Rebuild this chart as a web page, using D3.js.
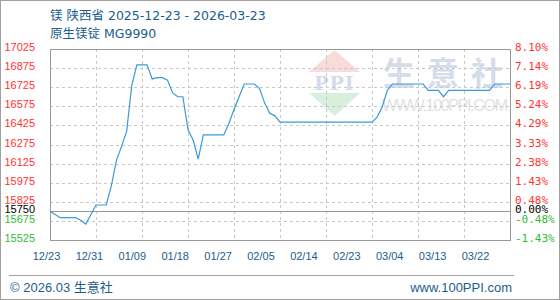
<!DOCTYPE html>
<html>
<head>
<meta charset="utf-8">
<script src="https://cdn.jsdelivr.net/npm/d3@7"></script>
<style>
	body { margin: 0; background: #fff; }
	svg { display: block; font-family: "Liberation Sans", Arial, "Noto Sans CJK SC", sans-serif; }
</style>
</head>
<body>
<div id="chart"></div>
<script>
/////////////////////////////////////////////////////////////////////////////
//// Data ///////////////////////////////////////////////////////////////////
/////////////////////////////////////////////////////////////////////////////

const basePrice = 15750;

// Price breakpoints (yuan/ton)
const dates = [
	"2025-12-23", "2025-12-25", "2025-12-28", "2025-12-29", "2025-12-30",
	"2026-01-01", "2026-01-03", "2026-01-04", "2026-01-05", "2026-01-06",
	"2026-01-07", "2026-01-08", "2026-01-09", "2026-01-11", "2026-01-12",
	"2026-01-13", "2026-01-14", "2026-01-15", "2026-01-16", "2026-01-17",
	"2026-01-18", "2026-01-19", "2026-01-20", "2026-01-21", "2026-01-22",
	"2026-01-26", "2026-01-27", "2026-01-28", "2026-01-29", "2026-01-30",
	"2026-02-01", "2026-02-02", "2026-02-03", "2026-02-04", "2026-02-05",
	"2026-02-06", "2026-02-24", "2026-02-25", "2026-02-26", "2026-02-27",
	"2026-02-28", "2026-03-06", "2026-03-07", "2026-03-09", "2026-03-10",
	"2026-03-11", "2026-03-19", "2026-03-20", "2026-03-23"
];
const prices = [
	15750, 15700, 15700, 15680, 15650,
	15800, 15800, 15950, 16150, 16260,
	16380, 16740, 16900, 16900, 16790,
	16800, 16800, 16780, 16680, 16650,
	16650, 16390, 16310, 16160, 16350,
	16350, 16440, 16550, 16650, 16750,
	16750, 16715, 16600, 16520, 16500,
	16450, 16450, 16490, 16570, 16700,
	16750, 16750, 16700, 16700, 16650,
	16700, 16700, 16750, 16750
];

// Axis ticks
const leftTicks = [17025, 16875, 16725, 16575, 16425, 16275, 16125, 15975, 15825, 15750, 15675, 15525];
const xLabels = ["12/23", "12/31", "01/09", "01/18", "01/27", "02/05", "02/14", "02/23", "03/04", "03/13", "03/22"];

/////////////////////////////////////////////////////////////////////////////
//// Set Up /////////////////////////////////////////////////////////////////
/////////////////////////////////////////////////////////////////////////////

const width = 560,
			height = 300;

const plot = { left: 50, right: 510, top: 49, bottom: 240 };

const blue = "#1d5d8e",
			up = "#ff3333",
			down = "#33bb33";

const svg = d3.select("#chart").append("svg")
		.attr("width", width)
		.attr("height", height);

// Outer frame
svg.append("rect")
		.attr("x", 0.5)
		.attr("y", 0.5)
		.attr("width", width - 1)
		.attr("height", height - 1)
		.attr("fill", "none")
		.attr("stroke", "#a0a0a0");

const parseDate = d3.timeParse("%Y-%m-%d");

const x = d3.scaleTime()
		.domain([parseDate("2025-12-23"), parseDate("2026-03-23")])
		.range([plot.left, plot.right]);

const y = d3.scaleLinear()
		.domain([15525, 17025])
		.range([plot.bottom, plot.top]);

const xGrid = d3.scaleLinear()
		.domain([0, 10])
		.range([plot.left, plot.right]);

const xLabel = d3.scalePoint()
		.domain(xLabels)
		.range([46, 475]);

const tickColor = v => v > basePrice ? up : (v < basePrice ? down : "#000");

/////////////////////////////////////////////////////////////////////////////
//// Watermark //////////////////////////////////////////////////////////////
/////////////////////////////////////////////////////////////////////////////

const mark = svg.append("g").attr("id", "watermark");
mark.append("path")
		.attr("d", "M309,72 L334.5,50 L360,72 Z")
		.attr("fill", "#f8dcdc");
mark.append("path")
		.attr("d", "M309,93 L360,93 L334.5,116 Z")
		.attr("fill", "#d9efdd");
mark.append("text")
		.attr("x", 334.5)
		.attr("y", 90)
		.attr("text-anchor", "middle")
		.attr("font-family", "'DejaVu Serif', serif")
		.attr("font-weight", "bold")
		.attr("font-size", 19)
		.attr("letter-spacing", 1)
		.attr("fill", "#d3dae9")
		.text("PPI");
mark.append("text")
		.attr("x", 383)
		.attr("y", 85)
		.attr("font-family", "'Noto Sans CJK SC', sans-serif")
		.attr("font-weight", "bold")
		.attr("font-size", 32)
		.attr("letter-spacing", 12)
		.attr("fill", "#d6dce9")
		.text("生意社");
mark.append("text")
		.attr("x", 382)
		.attr("y", 111)
		.attr("font-size", 16)
		.attr("textLength", 126)
		.attr("fill", "#e2e2e2")
		.text("WWW.100PPI.COM");

/////////////////////////////////////////////////////////////////////////////
//// Grid ///////////////////////////////////////////////////////////////////
/////////////////////////////////////////////////////////////////////////////

svg.append("g")
	.selectAll("line")
	.data(leftTicks.filter(v => v !== basePrice && v !== 17025 && v !== 15525))
	.enter().append("line")
		.attr("x1", plot.left)
		.attr("x2", plot.right)
		.attr("y1", d => Math.round(y(d)) + 0.5)
		.attr("y2", d => Math.round(y(d)) + 0.5)
		.attr("stroke", "#c8c8c8")
		.attr("stroke-dasharray", "3,3");

svg.append("g")
	.selectAll("line")
	.data(d3.range(1, 10))
	.enter().append("line")
		.attr("x1", d => Math.round(xGrid(d)) + 0.5)
		.attr("x2", d => Math.round(xGrid(d)) + 0.5)
		.attr("y1", plot.top)
		.attr("y2", plot.bottom)
		.attr("stroke", "#c8c8c8")
		.attr("stroke-dasharray", "3,3");

// Base price line
svg.append("line")
		.attr("x1", plot.left)
		.attr("x2", plot.right)
		.attr("y1", Math.round(y(basePrice)) + 0.5)
		.attr("y2", Math.round(y(basePrice)) + 0.5)
		.attr("stroke", "#999");

// Plot frame
svg.append("rect")
		.attr("x", plot.left + 0.5)
		.attr("y", plot.top + 0.5)
		.attr("width", plot.right - plot.left)
		.attr("height", plot.bottom - plot.top)
		.attr("fill", "none")
		.attr("stroke", "#999");

/////////////////////////////////////////////////////////////////////////////
//// Line ///////////////////////////////////////////////////////////////////
/////////////////////////////////////////////////////////////////////////////

const series = dates.map((d, i) => ({ date: parseDate(d), price: prices[i] }));

svg.append("path")
		.datum(series)
		.attr("fill", "none")
		.attr("stroke", "#3a9ad9")
		.attr("stroke-width", 1.2)
		.attr("d", d3.line()
			.x(d => x(d.date))
			.y(d => y(d.price)));

/////////////////////////////////////////////////////////////////////////////
//// Axes ///////////////////////////////////////////////////////////////////
/////////////////////////////////////////////////////////////////////////////

const leftAxis = svg.append("g")
		.attr("transform", "translate(35,-2)")
		.call(d3.axisLeft(y).tickValues(leftTicks).tickSize(0).tickPadding(0).tickFormat(d3.format("d")));
leftAxis.select(".domain").remove();
leftAxis.selectAll("text")
		.attr("font-family", "'Liberation Sans', Arial, sans-serif")
		.attr("font-size", 11)
		.attr("fill", d => tickColor(d));

const rightAxis = svg.append("g")
		.attr("transform", "translate(515,-2)")
		.call(d3.axisRight(y).tickValues(leftTicks).tickSize(0).tickPadding(0)
			.tickFormat(d => ((d - basePrice) / basePrice * 100).toFixed(2) + "%"));
rightAxis.select(".domain").remove();
rightAxis.selectAll("text")
		.attr("font-family", "'DejaVu Sans Mono', monospace")
		.attr("font-size", 11)
		.attr("fill", d => tickColor(d));

const bottomAxis = svg.append("g")
		.attr("transform", "translate(0,252)")
		.call(d3.axisBottom(xLabel).tickSize(0).tickPadding(0));
bottomAxis.select(".domain").remove();
bottomAxis.selectAll("text")
		.attr("font-family", "'Liberation Sans', Arial, sans-serif")
		.attr("font-size", 11)
		.attr("fill", blue);

/////////////////////////////////////////////////////////////////////////////
//// Titles and Footer //////////////////////////////////////////////////////
/////////////////////////////////////////////////////////////////////////////

svg.append("text")
		.attr("x", 50)
		.attr("y", 20)
		.attr("font-family", "'DejaVu Sans', 'Noto Sans CJK SC', sans-serif")
		.attr("font-size", 12.5)
		.attr("fill", blue)
		.text("镁 陕西省 2025-12-23 - 2026-03-23");

svg.append("text")
		.attr("x", 50)
		.attr("y", 38)
		.attr("font-family", "'DejaVu Sans', 'Noto Sans CJK SC', sans-serif")
		.attr("font-size", 12.5)
		.attr("fill", blue)
		.text("原生镁锭 MG9990");

svg.append("line")
		.attr("x1", 9)
		.attr("x2", 514)
		.attr("y1", 275.5)
		.attr("y2", 275.5)
		.attr("stroke", "#a0a0a0");

svg.append("text")
		.attr("x", 10)
		.attr("y", 292)
		.attr("font-size", 13)
		.attr("fill", blue)
		.text("© 2026.03 生意社");

svg.append("text")
		.attr("x", 512)
		.attr("y", 292)
		.attr("text-anchor", "end")
		.attr("font-size", 13)
		.attr("fill", blue)
		.text("www.100PPI.com");
</script>
</body>
</html>
